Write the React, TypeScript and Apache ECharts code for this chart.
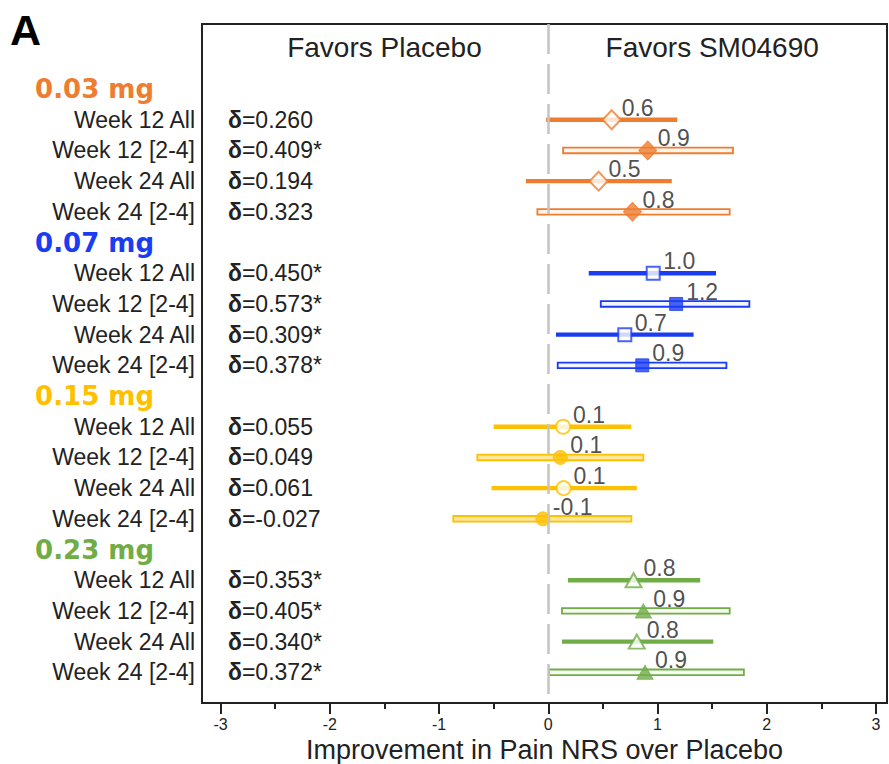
import React, { useEffect, useRef } from 'react';
import * as echarts from 'echarts';

// ---- data ----
const doses = ['0.03 mg', '0.07 mg', '0.15 mg', '0.23 mg'];
const rowLabels = ['Week 12 All', 'Week 12 [2-4]', 'Week 24 All', 'Week 24 [2-4]'];
const rowIsSubgroup = [false, true, false, true];

const delta003 = ['0.260', '0.409*', '0.194', '0.323'];
const delta007 = ['0.450*', '0.573*', '0.309*', '0.378*'];
const delta015 = ['0.055', '0.049', '0.061', '-0.027'];
const delta023 = ['0.353*', '0.405*', '0.340*', '0.372*'];

const est003 = [0.58, 0.91, 0.46, 0.77];
const lo003 = [-0.02, 0.135, -0.205, -0.1];
const hi003 = [1.18, 1.69, 1.13, 1.66];
const lab003 = ['0.6', '0.9', '0.5', '0.8'];

const est007 = [0.96, 1.17, 0.7, 0.86];
const lo007 = [0.37, 0.48, 0.07, 0.086];
const hi007 = [1.535, 1.84, 1.33, 1.63];
const lab007 = ['1.0', '1.2', '0.7', '0.9'];

const est015 = [0.135, 0.11, 0.14, -0.05];
const lo015 = [-0.5, -0.65, -0.52, -0.87];
const hi015 = [0.76, 0.87, 0.81, 0.76];
const lab015 = ['0.1', '0.1', '0.1', '-0.1'];

const est023 = [0.78, 0.87, 0.81, 0.885];
const lo023 = [0.18, 0.125, 0.125, 0.006];
const hi023 = [1.39, 1.66, 1.51, 1.79];
const lab023 = ['0.8', '0.9', '0.8', '0.9'];

const majorTicks = [-3, -2, -1, 0, 1, 2, 3];
const minorTicks = [-2.5, -1.5, -0.5, 0.5, 1.5, 2.5];
const favorLabels = ['Favors Placebo', 'Favors SM04690'];

// ---- styling ----
const doseColors = ['#ED7D31', '#1A3CF2', '#FFC000', '#70AD47'];
const doseInner = ['#FFF6F0', '#F2F5FF', '#FFE699', '#F6FBF2'];
const doseSymbols = ['diamond', 'rect', 'circle', 'triangle'];
const doseSymbolSize: any[] = [[18, 19], [13, 13], 14, [16, 14]];

const groupsEst = [est003, est007, est015, est023];
const groupsLo = [lo003, lo007, lo015, lo023];
const groupsHi = [hi003, hi007, hi015, hi023];
const groupsLab = [lab003, lab007, lab015, lab023];
const groupsDelta = [delta003, delta007, delta015, delta023];

const X_MIN = -3.17;
const X_MAX = 3.1;

// row index: header at g*5, rows at g*5+1+r
const rowText: string[] = [];
const rowDelta: string[] = [];
doses.forEach((d, g) => {
  rowText.push(`{h${g}|${d}}`);
  rowDelta.push('');
  rowLabels.forEach((l, r) => {
    rowText.push(l);
    rowDelta.push(`{b|δ}=${groupsDelta[g][r]}`);
  });
});
const allRows = rowText.map((_, i) => i);
const dataRows = allRows.filter((i) => i % 5 !== 0);

const ciData: any[] = [];
const estData: any[] = [];
doses.forEach((_, g) => {
  rowLabels.forEach((__, r) => {
    const row = g * 5 + 1 + r;
    const sub = rowIsSubgroup[r];
    const c = doseColors[g];
    ciData.push([groupsLo[g][r], groupsHi[g][r], row, g, sub ? 1 : 0]);
    estData.push({
      value: [groupsEst[g][r], row],
      symbol: doseSymbols[g],
      symbolSize: doseSymbolSize[g],
      itemStyle: {
        color: sub ? c : '#FFFFFF',
        borderColor: c,
        borderWidth: sub ? 1 : 2,
      },
      label: { formatter: groupsLab[g][r] },
    });
  });
});

const headerRich: any = {};
doseColors.forEach((c, g) => {
  headerRich[`h${g}`] = {
    color: c,
    fontFamily: 'DejaVu Sans',
    fontWeight: 'bold',
    fontSize: 26,
    padding: [0, 41, 0, 0],
  };
});

export default function App() {
  const ref = useRef<HTMLDivElement>(null);
  useEffect(() => {
    if (!ref.current) return;
    const chart = echarts.init(ref.current, undefined, { renderer: 'svg' });
    const option: any = {
      animation: false,
      backgroundColor: '#FFFFFF',
      textStyle: { fontFamily: 'Liberation Sans' },
      graphic: [
        {
          type: 'text',
          left: 10,
          top: 8,
          style: {
            text: 'A',
            fontSize: 43,
            fontWeight: 'bold',
            fontFamily: 'Liberation Sans',
            fill: '#000',
          },
        },
      ],
      grid: {
        left: 202,
        right: 2,
        top: 24,
        bottom: 61,
        outerBoundsMode: 'none',
        containLabel: false,
        show: true,
        borderColor: '#222',
        borderWidth: 2,
        backgroundColor: 'transparent',
      },
      xAxis: [
        {
          type: 'value',
          position: 'bottom',
          min: X_MIN,
          max: X_MAX,
          axisLine: { show: true, onZero: false, lineStyle: { color: '#222', width: 2 } },
          axisTick: {
            show: true,
            customValues: majorTicks,
            length: 11,
            lineStyle: { color: '#222', width: 2 },
          },
          axisLabel: {
            customValues: majorTicks,
            fontSize: 16,
            lineHeight: 16,
            color: '#222',
            margin: 13,
          },
          splitLine: { show: false },
          name: 'Improvement in Pain NRS over Placebo',
          nameLocation: 'middle',
          nameGap: 36,
          nameMoveOverlap: false,
          nameTextStyle: {
            fontSize: 27,
            lineHeight: 22,
            color: '#222',
            fontFamily: 'Liberation Sans',
          },
        },
        {
          type: 'value',
          position: 'bottom',
          min: X_MIN,
          max: X_MAX,
          axisLine: { show: false, onZero: false },
          axisTick: {
            show: true,
            customValues: minorTicks,
            length: 6,
            lineStyle: { color: '#222', width: 2 },
          },
          axisLabel: { show: false },
          splitLine: { show: false },
        },
        {
          type: 'value',
          position: 'top',
          min: X_MIN,
          max: X_MAX,
          axisLine: { show: false, onZero: false },
          axisTick: { show: false },
          axisLabel: {
            inside: true,
            customValues: [-1.5, 1.5],
            formatter: (v: number) => (v < 0 ? favorLabels[0] : favorLabels[1]),
            fontSize: 28,
            color: '#222',
            margin: 9,
          },
          splitLine: { show: false },
        },
      ],
      yAxis: [
        {
          type: 'value',
          position: 'left',
          inverse: true,
          min: -2.12,
          max: 20,
          axisLine: { show: false, onZero: false },
          axisTick: { show: false },
          splitLine: { show: false },
          axisLabel: {
            customValues: allRows,
            formatter: (v: number) => rowText[Math.round(v)] ?? '',
            fontSize: 23,
            color: '#222',
            margin: 7,
            rich: headerRich,
          },
        },
        {
          type: 'value',
          position: 'left',
          offset: 0,
          inverse: true,
          min: -2.12,
          max: 20,
          axisLine: { show: false, onZero: false },
          axisTick: { show: false },
          splitLine: { show: false },
          axisLabel: {
            inside: true,
            customValues: dataRows,
            formatter: (v: number) => rowDelta[Math.round(v)] ?? '',
            fontSize: 23,
            color: '#222',
            margin: 26,
            rich: { b: { fontWeight: 'bold', fontSize: 23, color: '#222' } },
          },
        },
      ],
      series: [
        {
          type: 'custom',
          name: 'ci',
          xAxisIndex: 0,
          yAxisIndex: 0,
          z: 2,
          encode: { x: [0, 1], y: 2 },
          data: ciData,
          renderItem: (params: any, api: any) => {
            const row = api.value(2);
            const a = api.coord([api.value(0), row]);
            const b = api.coord([api.value(1), row]);
            const g = api.value(3);
            const sub = api.value(4) === 1;
            const c = doseColors[g];
            if (!sub) {
              return {
                type: 'rect',
                shape: { x: a[0], y: a[1] - 2.2, width: b[0] - a[0], height: 4.4 },
                style: { fill: c },
              };
            }
            return {
              type: 'rect',
              shape: { x: a[0], y: a[1] - 2.8, width: b[0] - a[0], height: 5.6 },
              style: { fill: doseInner[g], stroke: c, lineWidth: 1.8 },
            };
          },
          markLine: {
            silent: true,
            symbol: ['none', 'none'],
            label: { show: false },
            lineStyle: { color: '#C4C4C4', width: 2.5, type: [30, 10] },
            data: [{ xAxis: 0 }],
          },
        },
        {
          type: 'scatter',
          name: 'est',
          xAxisIndex: 0,
          yAxisIndex: 0,
          z: 3,
          data: estData,
          label: {
            show: true,
            position: 'inside',
            align: 'left',
            verticalAlign: 'middle',
            offset: [10, -12],
            fontSize: 23,
            color: '#222',
          },
        },
      ],
    };
    chart.setOption(option);
    return () => chart.dispose();
  }, []);
  return (
    <div
      ref={ref}
      style={{ position: 'fixed', left: 0, top: 0, width: 889, height: 764 }}
    />
  );
}
